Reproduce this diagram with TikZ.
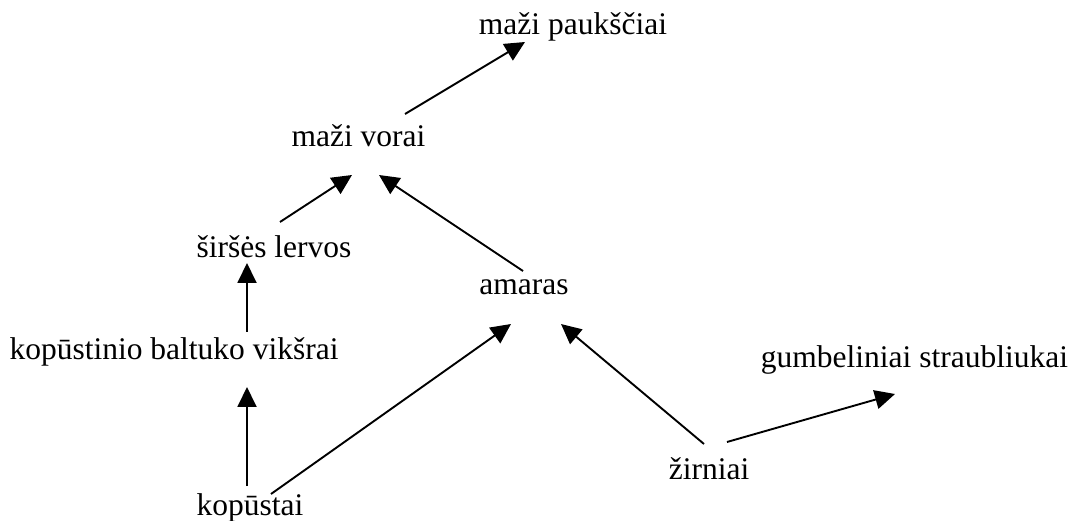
\documentclass[tikz,border=0pt]{standalone}
\usepackage{fontspec}
\setmainfont{Liberation Serif}
\usetikzlibrary{arrows.meta,calc}
\begin{document}
\begin{tikzpicture}[x=1pt,y=-1pt,
  lbl/.style={inner sep=0pt,anchor=base,font=\fontsize{31.5}{36}\selectfont},
  conn/.style={line width=1.9pt,-{Triangle[length=20pt,width=19pt]}}]
\path[use as bounding box,fill=white] (0,0) rectangle (1077,521);
\node[lbl] (pauk) at (573,35) {maži paukščiai};
\node[lbl] (vorai) at (358.5,147) {maži vorai};
\node[lbl] (sirses) at (274,258) {širšės lervos};
\node[lbl] (amaras) at (524,295) {amaras};
\node[lbl] (vik) at (174,360) {kopūstinio baltuko vikšrai};
\node[lbl] (gumb) at (914.5,368) {gumbeliniai straubliukai};
\node[lbl] (zirn) at (709,479) {žirniai};
\node[lbl] (kop) at (250,515) {kopūstai};
\draw[conn] ($(vorai.base)+(46.5,-33)$) -- ($(pauk.base)+(-48,7)$);
\draw[conn] ($(sirses.base)+(6,-36)$) -- ($(vorai.base)+(-6.5,28)$);
\draw[conn] ($(amaras.base)+(-1,-24)$) -- ($(vorai.base)+(20.5,28)$);
\draw[conn] ($(vik.base)+(73,-28)$) -- ($(sirses.base)+(-27,5)$);
\draw[conn] ($(kop.base)+(-3,-29)$) -- ($(vik.base)+(73,27)$);
\draw[conn] ($(kop.base)+(21,-21)$) -- ($(amaras.base)+(-13,29)$);
\draw[conn] ($(zirn.base)+(-5,-35)$) -- ($(amaras.base)+(37,29)$);
\draw[conn] ($(zirn.base)+(18,-37)$) -- ($(gumb.base)+(-19.5,26)$);
\end{tikzpicture}
\end{document}
